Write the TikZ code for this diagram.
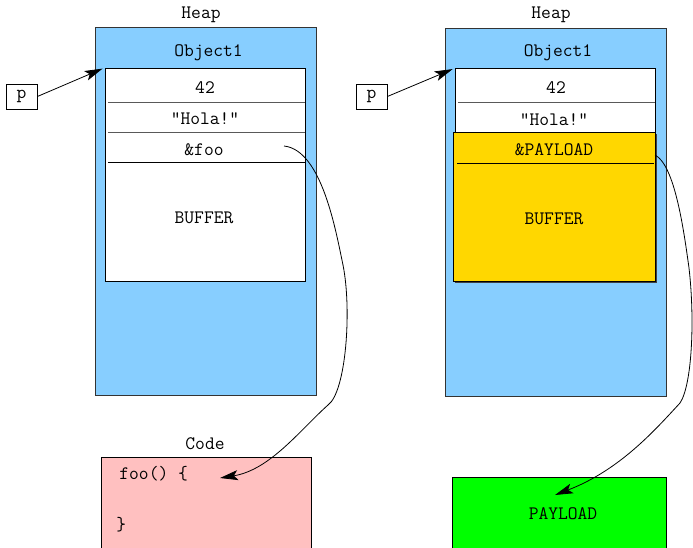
\documentclass[tikz,border=0pt]{standalone}
\usepackage{xcolor}
\usetikzlibrary{arrows.meta,shadows}
\definecolor{heapblue}{HTML}{87CEFF}
\definecolor{codepink}{HTML}{FFC0C0}
\definecolor{payloadgold}{HTML}{FFD700}
\definecolor{payloadgreen}{HTML}{00FF00}
\tikzstyle{heap box}=[
        draw = black!80,
        fill = heapblue,
        minimum width = 221pt,
        minimum height = 368pt,
        inner sep = 0pt
    ]
\tikzstyle{object box}=[
        draw,
        fill = white,
        minimum width = 200pt,
        minimum height = 213pt,
        inner sep = 0pt
    ]
\tikzstyle{ptr box}=[
        draw,
        fill = white,
        minimum width = 31pt,
        minimum height = 25pt,
        inner sep = 0pt
    ]
\tikzstyle{ptr}=[
        -{Stealth[length = 18pt, width = 10pt, inset = 4pt]}
    ]

\begin{document}
\begin{tikzpicture}[x=1pt, y=-1pt, line width=0.8pt,
        font=\ttfamily\fontsize{19}{22}\selectfont,
        field/.style = {inner sep=0pt},
        sep/.style = {draw=black!65}]
        \useasboundingbox (0,0) rectangle (693,547);

        % left: normal object
        \node (heapL label) at (201,15) {Heap};
        \node[heap box] (heapL) at (205.5,211) {};
        \node (objL label) at (208.5,53) {Object1};
        \node[object box] (objL) at (205,174.5) {};
        \node[field] (numL) at (205,88) {42};
        \node[field] (strL) at (205,119) {"Hola!"};
        \node[field] (fooL) at (204,150) {\&foo};
        \node[field] (bufL) at (204,218) {BUFFER};
        \draw[sep] (108,102) -- (objL.east |- 0,102);
        \draw[sep] (108,132) -- (objL.east |- 0,132);
        \draw (108,162) -- (objL.east |- 0,162);
        \node[ptr box] (pL) at (21.5,96.5) {p};
        \draw[ptr] (pL.east) -- ([shift={(-2pt,-1pt)}]objL.north west);

        \node (code label) at (205,444) {Code};
        \node[draw, fill=codepink, minimum width=210pt, minimum height=93pt,
              inner sep=0pt] (code) at (206,503.5) {};
        \node[field, anchor=west] (foo) at (119,474) {foo() \{};
        \node[field, anchor=west] (brace) at (116,525) {\}};
        \coordinate (fooL tail) at (284,146);
        \coordinate (foo head) at (220,478);
        \draw[ptr] (fooL tail) .. controls (322,150) and (336,232) .. (343,265)
            .. controls (352,310) and (346,392) .. (328,405)
            .. controls (300,430) and (270,470) .. (foo head);

        % right: overflowed object
        \node (heapR label) at (551,15) {Heap};
        \node[heap box] (heapR) at (555.5,212) {};
        \node (objR label) at (558,53) {Object1};
        \node[object box] (objR) at (555,175) {};
        \node[field] (numR) at (556,88) {42};
        \node[field] (strR) at (554,120) {"Hola!"};
        \draw[sep] (458,102) -- (objR.east |- 0,102);
        \node[draw, fill=payloadgold, minimum width=202pt, minimum height=149pt,
              inner sep=0pt, drop shadow={shadow xshift=1.5pt, shadow yshift=-1.5pt,
              fill=black!75, opacity=1}] (over) at (554,206.5) {};
        \node[field] (plR) at (554,150) {\&PAYLOAD};
        \node[field] (bufR) at (554,219) {BUFFER};
        \draw (457,163) -- (654,163);
        \node[ptr box] (pR) at (371.5,96.5) {p};
        \draw[ptr] (pR.east) -- ([shift={(-2pt,-1pt)}]objR.north west);

        \node[draw, fill=payloadgreen, minimum width=214pt, minimum height=73pt,
              inner sep=0pt] (payload) at (559,513.5) {};
        \node[field] (payload text) at (563,514) {PAYLOAD};
        \coordinate (plR tail) at (655,155);
        \coordinate (payload head) at (555,495);
        \draw[ptr] (plR tail) .. controls (675,165) and (684,232) .. (689,268)
            .. controls (695,320) and (692,385) .. (680,403)
            .. controls (655,430) and (620,470) .. (payload head);
    \end{tikzpicture}
\end{document}
